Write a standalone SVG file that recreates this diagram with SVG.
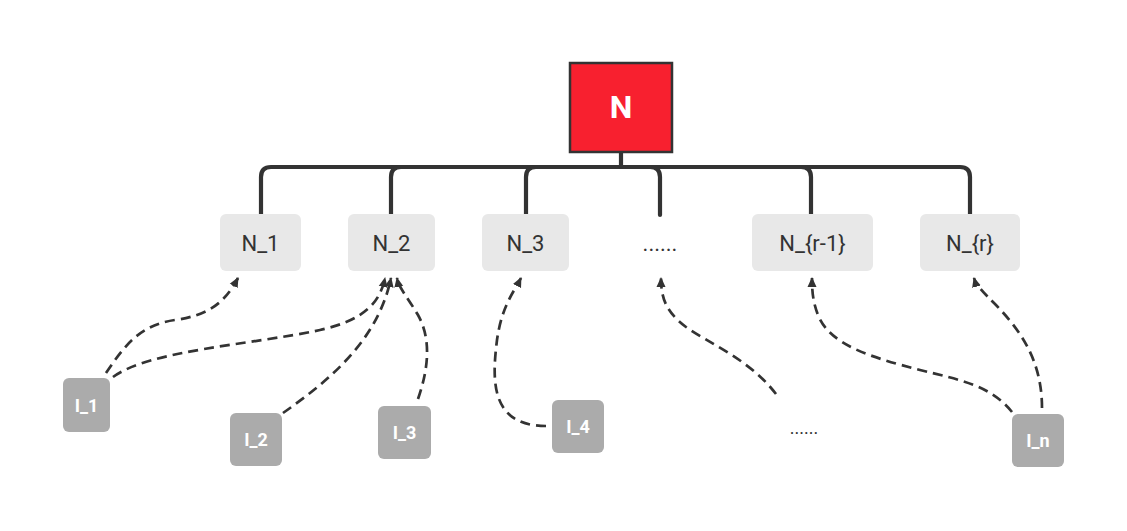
<svg xmlns="http://www.w3.org/2000/svg" width="1127" height="531" viewBox="0 0 1127 531">
<style>
.tree{fill:none;stroke:#333333;stroke-width:4.2;stroke-linecap:round;stroke-linejoin:round}
.dash{fill:none;stroke:#333333;stroke-width:2.7;stroke-dasharray:10 6}
.lvl{fill:#E8E8E8}
.leaf{fill:#ABABAB}
.t{font-family:"Roboto","Noto Sans",sans-serif;font-size:22px;fill:#333333;text-anchor:middle}
.lt{font-family:"Roboto","Noto Sans",sans-serif;font-size:18px;font-weight:bold;fill:#FFFFFF;text-anchor:middle}
</style>
<defs>
<marker id="ah" viewBox="0 0 10 10" refX="9" refY="5" markerWidth="10" markerHeight="10" markerUnits="userSpaceOnUse" orient="auto">
<path d="M0,0.5 L10,5 L0,9.5 Z" fill="#333333"/>
</marker>
</defs>
<rect width="1127" height="531" fill="#FFFFFF"/>
<g id="connectors">
<path class="tree" d="M621,152 V167"/>
<path class="tree" d="M621,167 H271 Q261,167 261,177 V214"/>
<path class="tree" d="M621,167 H401 Q391,167 391,177 V214"/>
<path class="tree" d="M621,167 H536 Q526,167 526,177 V214"/>
<path class="tree" d="M621,167 H650 Q660,167 660,177 V215"/>
<path class="tree" d="M621,167 H801 Q811,167 811,177 V214"/>
<path class="tree" d="M621,167 H960 Q970,167 970,177 V214"/>
<path class="dash" marker-end="url(#ah)" d="M106,373 C125,345 140,325 175,320 C210,315 225,302 238,278"/>
<path class="dash" marker-end="url(#ah)" d="M113,377 C150,350 250,345 320,330 C365,320 380,302 385,278"/>
<path class="dash" marker-end="url(#ah)" d="M283,413 C330,380 378,340 391,278"/>
<path class="dash" marker-end="url(#ah)" d="M418,399 C428,370 432,340 418,315 C406,295 399,288 397,278"/>
<path class="dash" marker-end="url(#ah)" d="M546,426 C490,426 492,380 497,340 C502,305 514,292 521,278"/>
<path class="dash" marker-end="url(#ah)" d="M776,394 C750,360 712,345 686,327 C666,312 661,298 661,278"/>
<path class="dash" marker-end="url(#ah)" d="M1012,412 C990,385 960,380 920,370 C870,357 830,345 818,315 C813,302 812,292 812,278"/>
<path class="dash" marker-end="url(#ah)" d="M1042,408 C1042,360 1020,330 996,305 C983,292 976,285 974,278"/>
</g>
<g id="node-N">
<rect x="570" y="63" width="102" height="89" fill="#F8202F" stroke="#333333" stroke-width="2.5"/>
<text x="621" y="118" font-family="Roboto,'Noto Sans',sans-serif" font-size="32" font-weight="bold" fill="#FFFFFF" text-anchor="middle">N</text>
</g>
<g id="node-N1">
<rect class="lvl" x="220" y="214" width="81" height="57" rx="6"/>
<text class="t" x="260.5" y="251">N_1</text>
</g>
<g id="node-N2">
<rect class="lvl" x="348" y="214" width="87" height="57" rx="6"/>
<text class="t" x="391.5" y="251">N_2</text>
</g>
<g id="node-N3">
<rect class="lvl" x="482" y="214" width="87" height="57" rx="6"/>
<text class="t" x="525.5" y="251">N_3</text>
</g>
<g id="node-dots">
<text class="t" x="660" y="251">......</text>
</g>
<g id="node-Nr1">
<rect class="lvl" x="752" y="214" width="121" height="57" rx="6"/>
<text class="t" x="812.5" y="251">N_{r-1}</text>
</g>
<g id="node-Nr">
<rect class="lvl" x="920" y="214" width="100" height="57" rx="6"/>
<text class="t" x="970" y="251">N_{r}</text>
</g>
<g id="node-I1">
<rect class="leaf" x="63" y="378" width="47" height="54" rx="6"/>
<text class="lt" x="86.5" y="411.5">I_1</text>
</g>
<g id="node-I2">
<rect class="leaf" x="230" y="413" width="52" height="53" rx="6"/>
<text class="lt" x="256" y="446">I_2</text>
</g>
<g id="node-I3">
<rect class="leaf" x="378" y="406" width="53" height="53" rx="6"/>
<text class="lt" x="404.5" y="439">I_3</text>
</g>
<g id="node-I4">
<rect class="leaf" x="552" y="400" width="52" height="53" rx="6"/>
<text class="lt" x="578" y="433">I_4</text>
</g>
<g id="node-Idots">
<text x="804" y="434" font-family="Roboto,'Noto Sans',sans-serif" font-size="18" fill="#333333" text-anchor="middle">......</text>
</g>
<g id="node-In">
<rect class="leaf" x="1012" y="414" width="52" height="53" rx="6"/>
<text class="lt" x="1038" y="447">I_n</text>
</g>
</svg>
